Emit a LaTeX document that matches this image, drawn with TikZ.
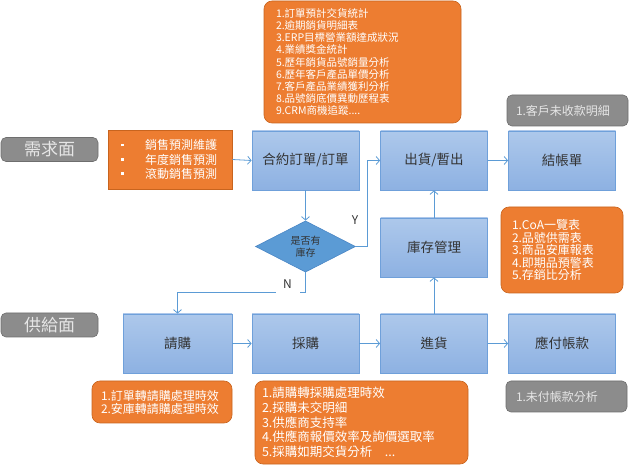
\documentclass[tikz,border=0pt]{standalone}
\usepackage{fontspec}
\setmainfont{Noto Sans CJK TC}
\usetikzlibrary{shapes.geometric,arrows.meta}
\definecolor{orangeF}{HTML}{ED7D31}
\definecolor{orangeD}{HTML}{C8641E}
\definecolor{grayF}{HTML}{8C8C8C}
\definecolor{grayD}{HTML}{6E6E6E}
\definecolor{grayT}{HTML}{E6E6E6}
\definecolor{blueT}{HTML}{ADC8EB}
\definecolor{blueB}{HTML}{8DB1E2}
\definecolor{blueD}{HTML}{6FA0DA}
\definecolor{lineC}{HTML}{5B9BD5}
\definecolor{diaF}{HTML}{5B9BD5}
\definecolor{diaD}{HTML}{4A86C5}
\definecolor{txtD}{HTML}{333333}
\tikzset{
  proc/.style={draw=blueD, line width=0.8pt, top color=blueT, bottom color=blueB,
    minimum width=107pt, minimum height=59pt, inner sep=0pt, text=txtD,
    font=\fontsize{13.5}{15}\selectfont},
  side/.style={draw=grayD, line width=0.6pt, fill=grayF, rounded corners=5pt,
    minimum width=97pt, minimum height=24pt, inner sep=0pt, text=grayT,
    font=\fontsize{17}{19}\selectfont},
  note/.style={draw=orangeD, line width=0.6pt, fill=orangeF, rounded corners=8pt,
    inner sep=0pt, text=white, align=left},
  gnote/.style={draw=grayD, line width=0.6pt, fill=grayF, rounded corners=5pt,
    inner sep=0pt, text=grayT, align=left, font=\fontsize{12}{13}\selectfont},
  arr/.style={draw=lineC, line width=0.8pt, -{Straight Barb[length=3.5pt,width=8pt]}},
  lbl/.style={text=txtD, font=\fontsize{12}{14}\selectfont, inner sep=1pt}
}
\newcommand{\bul}{\makebox[25pt][l]{\kern1pt\rule[3.5pt]{2.6pt}{2.6pt}}}
\begin{document}
\begin{tikzpicture}[x=1pt,y=-1pt]
\useasboundingbox (0,0) rectangle (630,465);

% side labels
\node[side] (demand) at (49.5,149.5) {需求面};
\node[side] (supply) at (49.5,325) {供給面};

% process boxes
\node[proc] (order) at (305.5,160.5) {合約訂單/訂單};
\node[proc] (ship)  at (434,160.5) {出貨/暫出};
\node[proc] (bill)  at (562,160.5) {結帳單};
\node[proc] (stock) at (434,247.5) {庫存管理};
\node[proc, minimum width=109pt] (req) at (177.5,343.5) {請購};
\node[proc] (purch) at (305.5,343.5) {採購};
\node[proc] (recv)  at (434,343.5) {進貨};
\node[proc] (pay)   at (562,343.5) {應付帳款};

% decision
\node[diamond, draw=diaD, line width=0.6pt, fill=diaF, minimum width=100pt,
  minimum height=49pt, inner sep=0pt, text=txtD, align=center,
  font=\fontsize{10}{12}\selectfont] (dec) at (305.5,246.5) {是否有\\庫存};

% forecast box
\node[draw=orangeD, line width=0.6pt, fill=orangeF, minimum width=124pt,
  minimum height=59pt, inner sep=0pt, text=white, align=left, text width=100pt,
  font=\fontsize{12}{14.3}\selectfont] (fc) at (170,159.5)
  {\bul 銷售預測維護\\\bul 年度銷售預測\\\bul 滾動銷售預測};

% notes
\node[note, minimum width=197pt, minimum height=122pt, text width=173pt,
  font=\fontsize{10.5}{12.1}\selectfont] (top) at (362.5,62)
  {1.訂單預計交貨統計\\2.逾期銷貨明細表\\3.ERP目標營業額達成狀況\\4.業績獎金統計\\5.歷年銷貨品號銷量分析\\6.歷年客戶產品單價分析\\7.客戶產品業績獲利分析\\8.品號銷底價異動歷程表\\9.CRM商機追蹤....};
\node[note, minimum width=122pt, minimum height=86pt, text width=100pt,
  font=\fontsize{12}{12.5}\selectfont] (inv) at (562,250)
  {1.CoA一覽表\\2.品號供需表\\3.商品安庫報表\\4.即期品預警表\\5.存銷比分析};
\node[note, minimum width=140pt, minimum height=42pt, text width=122pt,
  font=\fontsize{12}{13}\selectfont] (reqn) at (162,402)
  {1.訂單轉請購處理時效\\2.安庫轉請購處理時效};
\node[note, minimum width=213pt, minimum height=83pt, text width=199pt,
  font=\fontsize{12.5}{14.7}\selectfont] (purn) at (361.5,422.5)
  {1.請購轉採購處理時效\\2.採購未交明細\\3.供應商支持率\\4.供應商報價效率及詢價選取率\\5.採購如期交貨分析\quad ...};
\node[gnote, minimum width=121pt, minimum height=31pt, text width=103pt] (ar) at (567.5,110.5)
  {1.客戶未收款明細};
\node[gnote, minimum width=121pt, minimum height=31pt, text width=101pt] (ap) at (566.5,396.5)
  {1.未付帳款分析};

% connectors
\draw[arr] (fc.east) -- (order.west);
\draw[arr] (order.south) -- (dec.north);
\coordinate (yc) at (367,246.5);
\draw[arr] (dec.east) -- (yc) |- (ship.west);
\coordinate (nc) at (305.5,292);
\draw[arr] (dec.south) -- (nc) -| (req.north);
\draw[arr] (ship.east) -- (bill.west);
\draw[arr] (req.east) -- (purch.west);
\draw[arr] (purch.east) -- (recv.west);
\draw[arr] (recv.east) -- (pay.west);
\draw[arr] (recv.north) -- (stock.south);
\draw[arr] (stock.north) -- (ship.south);

% labels
\node[lbl] (ylab) at (355,220) {Y};
\node[lbl, fill=white, minimum width=24pt, minimum height=20pt] (nlab) at (287.5,284) {N};
\end{tikzpicture}
\end{document}
